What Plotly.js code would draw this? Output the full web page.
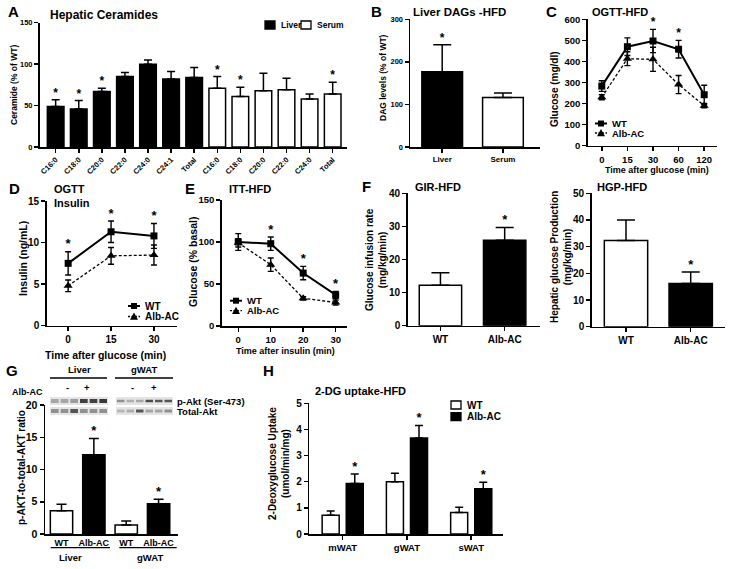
<!DOCTYPE html>
<html><head><meta charset="utf-8">
<script src="https://cdn.plot.ly/plotly-3.0.1.min.js"></script>
<style>body{margin:0;background:#fff}#chart{width:732px;height:569px}</style>
</head><body><div id="chart"></div><script>
// ---------- DATA ----------
// A: Hepatic ceramides (% of WT)
const cerCats = ['C16:0','C18:0','C20:0','C22:0','C24:0','C24:1','Total','C16:0','C18:0','C20:0','C22:0','C24:0','Total'];
const cerLiver = [49,46,67,85,100,82,84];
const cerLiverErr = [8,10,4,5,5,9,12];
const cerSerum = [71,61,68,69,58,64];
const cerSerumErr = [14,11,21,14,6,14];
const cerSig = [1,1,1,0,0,0,0,1,1,0,0,0,1];
const cerSeries = ['Liver','Serum'];
// B: Liver DAGs
const dagCats = ['Liver','Serum'];
const dagVals = [177,116];
const dagErr = [63,11];
const dagSig = [1,0];
// C: OGTT glucose
const lineSeries = ['WT','Alb-AC'];
const ogttTimes = ['0','15','30','60','120'];
const ogttWT = [283,470,497,458,242];
const ogttWTErr = [25,42,55,42,45];
const ogttAC = [230,413,410,290,190];
const ogttACErr = [12,33,57,43,10];
const ogttSig = [0,0,1,1,0];
// D: OGTT insulin
const insTimes = ['0','15','30'];
const insWT = [7.5,11.3,10.8];
const insWTErr = [1.4,1.3,1.5];
const insAC = [4.8,8.4,8.5];
const insACErr = [0.7,1.0,1.2];
const insSig = [1,1,1];
// E: ITT
const ittTimes = [0,10,20,30];
const ittWT = [100,98,63,37];
const ittWTErr = [10,8,8,4];
const ittAC = [99,73,33,28];
const ittACErr = [5,8,2,3];
const ittSig = [0,1,1,1];
// F: clamp
const groups = ['WT','Alb-AC'];
const girVals = [12.2,25.8];
const girErr = [3.8,3.9];
const girSig = [0,1];
const hgpVals = [32.3,16.2];
const hgpErr = [7.7,4.3];
const hgpSig = [0,1];
// G: pAkt/Akt
const aktCats = ['WT','Alb-AC','WT','Alb-AC'];
const aktTissues = ['Liver','gWAT'];
const aktVals = [3.6,12.3,1.4,4.7];
const aktErr = [1.0,2.5,0.6,0.7];
const aktSig = [0,1,0,1];
// blot band intensities (6 lanes: - - - + + +)
const blotLiverP = [0.35,0.35,0.4,0.85,0.85,0.9];
const blotLiverT = [0.45,0.45,0.75,0.45,0.45,0.45];
const blotWatP = [0.45,0.3,0.35,0.8,0.75,0.75];
const blotWatT = [0.25,0.3,0.75,0.35,0.35,0.45];
// H: 2-DG uptake
const dgCats = ['mWAT','gWAT','sWAT'];
const dgWT = [0.72,2.0,0.82];
const dgWTErr = [0.16,0.32,0.2];
const dgAC = [1.93,3.67,1.73];
const dgACErr = [0.37,0.48,0.25];
const dgSig = [1,1,1];

// ---------- HELPERS ----------
const W=732,H=569;
const FONT='Liberation Sans, Arial, sans-serif';
const dx=(a,b)=>[a/W,b/W];
const dy=(t,b)=>[1-b/H,1-t/H];
const idx=a=>a.map((_,i)=>i);
const zeros=a=>a.map(()=>0);
function base(size, ticks){
  return {showline:true, linecolor:'#000', linewidth:1.5, ticks: ticks===undefined?'outside':ticks, ticklen:4, tickwidth:1.5, tickcolor:'#000',
    showgrid:false, zeroline:false, automargin:false, fixedrange:true,
    tickfont:{family:FONT, size:size, color:'#000', weight:'bold'}};
}
const traces=[];
function bars(x,y,err,colors,xa,ya,width,name,errW){
  traces.push({type:'bar', x:x, y:y, width:width, xaxis:xa, yaxis:ya,
    marker:{color:colors, line:{color:'#000', width:1.5}},
    error_y:{type:'data', symmetric:false, array:err, arrayminus:zeros(err), color:'#000', thickness:1.5, width:errW},
    showlegend:false, name:name||'', hoverinfo:'skip'});
}
function stars(x,y,err,sig,xa,ya,size){
  const xs=[],ys=[];
  sig.forEach((s,i)=>{ if(s){ xs.push(x[i]); ys.push(y[i]+err[i]); } });
  traces.push({type:'scatter', mode:'text', x:xs, y:ys, text:xs.map(()=>'*'), textposition:'top center',
    textfont:{family:FONT, size:size||12, color:'#000', weight:'bold'}, xaxis:xa, yaxis:ya, showlegend:false, cliponaxis:false, hoverinfo:'skip'});
}
function line(x,y,err,xa,ya,name,ac){
  traces.push({type:'scatter', mode:'lines+markers', x:x, y:y, xaxis:xa, yaxis:ya, name:name, showlegend:false,
    line:{color:'#000', width: ac?1.3:2, dash: ac?'3px,2px':'solid'},
    marker:{color:'#000', symbol: ac?'triangle-up':'square', size: ac?8:7},
    error_y:{type:'data', array:err, color:'#000', thickness:1.4, width:3},
    cliponaxis:false, hoverinfo:'skip'});
}
const ann=[];
function txt(text,px,py,size,opt){
  opt=opt||{};
  ann.push({text:'<b>'+text.split('<br>').join('</b><br><b>')+'</b>', xref:'paper', yref:'paper', x:px/W, y:1-py/H, showarrow:false,
    xanchor:opt.xanchor||'center', yanchor:'middle', textangle:opt.angle||0,
    font:{family:FONT, size:size, color:'#000', weight:'bold'}});
}
const shapes=[];
const PX=x=>x/W, PY=y=>1-y/H;
function hline(x0,x1,y,w,dash){ shapes.push({type:'line', xref:'paper', yref:'paper', x0:PX(x0), x1:PX(x1), y0:PY(y), y1:PY(y), line:{color:'#000', width:w||1.3, dash:dash||'solid'}}); }
function rect(x0,x1,y0,y1,color,lw){ shapes.push({type:'rect', xref:'paper', yref:'paper', x0:PX(x0), x1:PX(x1), y0:PY(y1), y1:PY(y0), fillcolor:color, line:{width:lw||0, color:'#000'}, layer:'above'}); }
function tri(cx,cy,s){ shapes.push({type:'path', xref:'paper', yref:'paper', path:'M'+PX(cx-s)+','+PY(cy+s*0.8)+' L'+PX(cx+s)+','+PY(cy+s*0.8)+' L'+PX(cx)+','+PY(cy-s)+' Z', fillcolor:'#000', line:{width:0}}); }
function gray(v){ const c=Math.round(235-v*200); return 'rgb('+c+','+c+','+c+')'; }
// manual legends
function legLine(px,py,labels,gap,size){
  labels.forEach((lab,i)=>{
    const y=py+i*gap, ac=i===1;
    hline(px,px+12,y,ac?1.3:2,ac?'2px,1.5px':'solid');
    if(ac) tri(px+6,y,4); else rect(px+3,px+9,y-3,y+3,'#000');
    txt(lab,px+15,y,size,{xanchor:'left'});
  });
}
function legBox(px,py,labels,fills,gap,size,horiz){
  labels.forEach((lab,i)=>{
    let x=px,y=py;
    if(horiz){ x=px+i*36; } else { y=py+i*gap; }
    rect(x,x+10,y-4,y+4,fills[i],1.3);
    txt(lab,x+14,y,size,{xanchor:'left'});
  });
}

// ---------- A ----------
const xl=idx(cerLiver), xs=cerSerum.map((_,i)=>i+cerLiver.length);
bars(xl,cerLiver,cerLiverErr,'#000','x','y',0.72,cerSeries[0],4);
bars(xs,cerSerum,cerSerumErr,'#fff','x','y',0.72,cerSeries[1],4);
stars(xl.concat(xs), cerLiver.concat(cerSerum), cerLiverErr.concat(cerSerumErr), cerSig,'x','y',12);
// ---------- B ----------
bars(idx(dagCats),dagVals,dagErr,['#000','#fff'],'x2','y2',0.67,null,9);
stars(idx(dagCats),dagVals,dagErr,dagSig,'x2','y2',12);
// ---------- C ----------
line(idx(ogttTimes),ogttWT,ogttWTErr,'x3','y3',lineSeries[0],false);
line(idx(ogttTimes),ogttAC,ogttACErr,'x3','y3',lineSeries[1],true);
stars(idx(ogttTimes),ogttWT,ogttWTErr,ogttSig,'x3','y3',12);
// ---------- D ----------
line(idx(insTimes),insWT,insWTErr,'x4','y4',lineSeries[0],false);
line(idx(insTimes),insAC,insACErr,'x4','y4',lineSeries[1],true);
stars(idx(insTimes),insWT,insWTErr,insSig,'x4','y4',13);
// ---------- E ----------
line(ittTimes,ittWT,ittWTErr,'x5','y5',lineSeries[0],false);
line(ittTimes,ittAC,ittACErr,'x5','y5',lineSeries[1],true);
stars(ittTimes,ittWT,ittWTErr,ittSig,'x5','y5',13);
// ---------- F ----------
bars(idx(groups),girVals,girErr,['#fff','#000'],'x6','y6',0.66,null,9);
stars(idx(groups),girVals,girErr,girSig,'x6','y6',13);
bars(idx(groups),hgpVals,hgpErr,['#fff','#000'],'x7','y7',0.67,null,9);
stars(idx(groups),hgpVals,hgpErr,hgpSig,'x7','y7',13);
// ---------- G ----------
bars(idx(aktCats),aktVals,aktErr,['#fff','#000','#fff','#000'],'x8','y8',0.69,null,5);
stars(idx(aktCats),aktVals,aktErr,aktSig,'x8','y8',13);
// ---------- H ----------
const OFF_WT=-0.32, OFF_AC=0.055, BW=0.265;
traces.push({type:'bar', x:idx(dgCats), y:dgWT, offset:OFF_WT, width:BW, xaxis:'x9', yaxis:'y9', name:'WT', showlegend:false,
  marker:{color:'#fff', line:{color:'#000', width:1.5}},
  error_y:{type:'data', symmetric:false, array:dgWTErr, arrayminus:zeros(dgWTErr), color:'#000', thickness:1.5, width:4}, hoverinfo:'skip'});
traces.push({type:'bar', x:idx(dgCats), y:dgAC, offset:OFF_AC, width:BW, xaxis:'x9', yaxis:'y9', name:'Alb-AC', showlegend:false,
  marker:{color:'#000', line:{color:'#000', width:1.5}},
  error_y:{type:'data', symmetric:false, array:dgACErr, arrayminus:zeros(dgACErr), color:'#000', thickness:1.5, width:4}, hoverinfo:'skip'});
stars(idx(dgCats).map(i=>i+OFF_AC+BW/2),dgAC,dgACErr,dgSig,'x9','y9',13);

// ---------- LAYOUT ----------
const layout={
  width:W, height:H, margin:{l:0,r:0,t:0,b:0}, paper_bgcolor:'#fff', plot_bgcolor:'rgba(0,0,0,0)',
  barmode:'overlay', font:{family:FONT, color:'#000'}, showlegend:false,
  xaxis:Object.assign(base(7.5),{domain:dx(39.5,347), anchor:'y', range:[-0.7,12.62], tickmode:'array', tickvals:idx(cerCats), ticktext:cerCats, tickangle:-45}),
  yaxis:Object.assign(base(7.5),{domain:dy(22.7,147), anchor:'x', range:[0,150], dtick:50}),
  xaxis2:Object.assign(base(8),{domain:dx(410,540), anchor:'y2', range:[-0.53,1.61], tickmode:'array', tickvals:idx(dagCats), ticktext:dagCats}),
  yaxis2:Object.assign(base(7.5),{domain:dy(19.3,147), anchor:'x2', range:[0,300], dtick:100}),
  xaxis3:Object.assign(base(9.5),{domain:dx(587.7,717), anchor:'y3', range:[-0.55,4.5], tickmode:'array', tickvals:idx(ogttTimes), ticktext:ogttTimes}),
  yaxis3:Object.assign(base(9.5),{domain:dy(19.3,145.7), anchor:'x3', range:[0,600], dtick:100}),
  xaxis4:Object.assign(base(10),{domain:dx(46.7,176.7), anchor:'y4', range:[-0.5,2.53], tickmode:'array', tickvals:idx(insTimes), ticktext:insTimes}),
  yaxis4:Object.assign(base(10),{domain:dy(201,325.7), anchor:'x4', range:[0,15], dtick:5}),
  xaxis5:Object.assign(base(9.5),{domain:dx(221.7,346.7), anchor:'y5', range:[-5.1,33.4], tickmode:'array', tickvals:ittTimes}),
  yaxis5:Object.assign(base(9.5),{domain:dy(200,326), anchor:'x5', range:[0,150], dtick:50}),
  xaxis6:Object.assign(base(10),{domain:dx(407.7,540), anchor:'y6', range:[-0.51,1.55], tickmode:'array', tickvals:idx(groups), ticktext:groups}),
  yaxis6:Object.assign(base(10),{domain:dy(193.3,325.7), anchor:'x6', range:[0,40], dtick:10}),
  xaxis7:Object.assign(base(10),{domain:dx(591.7,725), anchor:'y7', range:[-0.53,1.53], tickmode:'array', tickvals:idx(groups), ticktext:groups}),
  yaxis7:Object.assign(base(10),{domain:dy(193.3,326.7), anchor:'x7', range:[0,50], dtick:10}),
  xaxis8:Object.assign(base(9,''),{domain:dx(45,178), anchor:'y8', range:[-0.51,3.6], tickmode:'array', tickvals:idx(aktCats), ticktext:aktCats}),
  yaxis8:Object.assign(base(10.5),{domain:dy(405,534), anchor:'x8', range:[0,20], dtick:5}),
  xaxis9:Object.assign(base(9.5),{domain:dx(309.3,502.7), anchor:'y9', range:[-0.52,2.49], tickmode:'array', tickvals:idx(dgCats), ticktext:dgCats}),
  yaxis9:Object.assign(base(10),{domain:dy(403.3,534), anchor:'x9', range:[0,5], dtick:1}),
  annotations:ann, shapes:shapes
};
// panel letters
[['A',13,12],['B',376,12],['C',551,12],['D',15,188],['E',190,188],['F',366,187],['G',12,370],['H',268,370]]
  .forEach(l=>txt(l[0],l[1],l[2],15));
// titles
txt('Hepatic Ceramides',48,15,12,{xanchor:'left'});
txt('Liver DAGs -HFD',411,12,11.5,{xanchor:'left'});
txt('OGTT-HFD',590,12,11,{xanchor:'left'});
txt('OGTT',52,189,11,{xanchor:'left'});
txt('Insulin',52,203,11,{xanchor:'left'});
txt('ITT-HFD',227,189,11,{xanchor:'left'});
txt('GIR-HFD',413,187,11,{xanchor:'left'});
txt('HGP-HFD',595,187,11,{xanchor:'left'});
txt('2-DG uptake-HFD',313,391,11,{xanchor:'left'});
// x titles
txt('Time after glucose (min)',657,170,9);
txt('Time after glucose (min)',105,355,10.5);
txt('Time after insulin (min)',285,351,9);
// y titles
txt('Ceramide (% of WT)',14,85,8.5,{angle:-90});
txt('DAG levels (% of WT)',383,78,8.5,{angle:-90});
txt('Glucose (mg/dl)',555,89,10,{angle:-90});
txt('Insulin (ng/mL)',23,259,10.5,{angle:-90});
txt('Glucose (% basal)',193,262,10.5,{angle:-90});
txt('Glucose infusion rate<br>(mg/kg/min)',376,260,10,{angle:-90});
txt('Hepatic glucose Production<br>(mg/kg/min)',561,257,10,{angle:-90});
txt('p-AKT-to-total-AKT ratio',22,468,10,{angle:-90});
txt('2-Deoxyglucose Uptake<br>(umol/min/mg)',279,464,10,{angle:-90});
// legends
legBox(265,25,cerSeries,['#000','#fff'],0,8.5,true);
legLine(595,123.5,lineSeries,9.5,9.5);
legLine(128,306,lineSeries,10.5,10);
legLine(230,300.7,lineSeries,10,9.5);
legBox(451,405,lineSeries,['#fff','#000'],11.7,10,false);
// G group labels under axis
hline(50.7,110,547.7); hline(119.3,176.7,547.7);
txt(aktTissues[0],70,557,9.5); txt(aktTissues[1],150,557,9.5);
// G blot header
txt(aktTissues[0],79,369,9.5); txt(aktTissues[1],144,369,9.5);
hline(50,107,378); hline(115,173,378);
txt('-',67,387,9.5); txt('+',87,387,9.5); txt('-',132,387,9.5); txt('+',154,387,9.5);
txt('Alb-AC',27,392,9);
txt('p-Akt (Ser-473)',175,401,9.5,{xanchor:'left'});
txt('Total-Akt',175,411,9.5,{xanchor:'left'});
function blot(x0,x1,y0,y1,vals,th){
  rect(x0,x1,y0,y1,'#e4e4e4');
  const lw=(x1-x0)/vals.length;
  vals.forEach((v,i)=>{ const cy=(y0+y1)/2; rect(x0+i*lw+1,x0+(i+1)*lw-1,cy-th/2,cy+th/2,gray(v)); });
}
blot(50,108,397,405,blotLiverP,4);
blot(50,108,407,415,blotLiverT,4);
blot(116,173,397,405,blotWatP,2.5);
blot(116,173,407,415,blotWatT,3);

Plotly.newPlot('chart',traces,layout,{staticPlot:true});
</script></body></html>
